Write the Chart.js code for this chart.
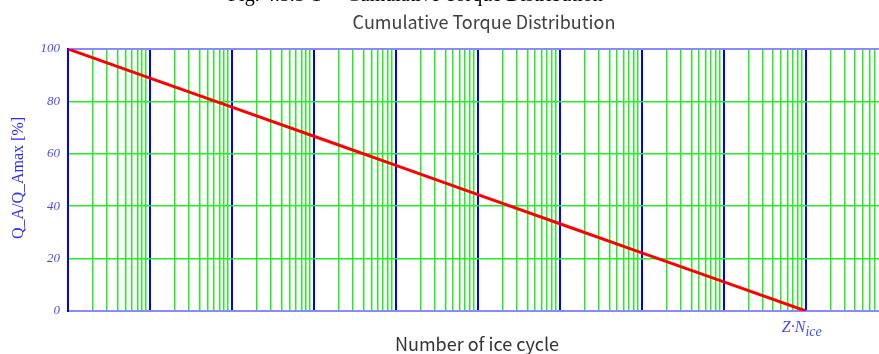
<!DOCTYPE html>
<html>
<head>
<meta charset="utf-8">
<script src="https://cdn.jsdelivr.net/npm/chart.js@4"></script>
<style>
  html, body { margin: 0; padding: 0; background: #fff; }
  #wrap { width: 879px; height: 354px; position: relative; }
</style>
</head>
<body>
<div id="wrap"><canvas id="torqueChart"></canvas></div>
<script>
// cycle counts at each decade (x), relative torque in % (y)
const cycles = [1, 1e1, 1e2, 1e3, 1e4, 1e5, 1e6, 1e7, 1e8, 1e9];
const torquePct = [100, 88.9, 77.8, 66.7, 55.6, 44.4, 33.3, 22.2, 11.1, 0];
const yTicks = [0, 20, 40, 60, 80, 100];
const significands = [1, 2, 3, 4, 5, 6, 7, 8, 9];
const decades = [1, 1e1, 1e2, 1e3, 1e4, 1e5, 1e6, 1e7, 1e8, 1e9];
const xMax = 7.8e9;   // axis runs a little past Z*N_ice
const zNice = 1e9;    // position of the Z*N_ice mark

const figCaption = 'Fig. 4.5.5-1     Cumulative Torque Distribution';
const chartTitle = 'Cumulative Torque Distribution';
const xTitle = 'Number of ice cycle';
const yTitle = 'Q_A/Q_Amax [%]';

// extra texts: cut-off caption, title, axis titles, Z*N_ice mark
const textPlugin = {
    id: 'texts',
    afterDraw(chart) {
        const ctx = chart.ctx;
        ctx.save();

        // caption above, mostly cropped off in the reference
        ctx.fillStyle = '#000';
        ctx.font = '20px "Liberation Serif"';
        const w = ctx.measureText(figCaption).width;
        const size = 20 * 375 / w;
        ctx.font = size + 'px "Liberation Serif"';
        ctx.textBaseline = 'alphabetic';
        ctx.textAlign = 'left';
        ctx.fillText(figCaption, 228, 1);

        ctx.fillStyle = '#404040';
        ctx.font = '18px "Noto Sans CJK JP"';
        ctx.textAlign = 'center';
        ctx.textBaseline = 'middle';
        ctx.fillText(chartTitle, 484, 22);

        ctx.fillStyle = '#333';
        ctx.fillText(xTitle, 477, 344);

        // y title, rotated
        ctx.save();
        ctx.translate(19, 178);
        ctx.rotate(-Math.PI / 2);
        ctx.fillStyle = '#2a2aff';
        ctx.font = '16px "Liberation Serif"';
        ctx.fillText(yTitle, 0, 0);
        ctx.restore();

        // Z*N_ice under its decade line
        const px = chart.scales.x.getPixelForValue(zNice);
        ctx.fillStyle = '#4a4aee';
        ctx.textAlign = 'left';
        ctx.textBaseline = 'alphabetic';
        ctx.font = 'italic 16px "Liberation Serif"';
        const main = 'Z\u00b7N';
        const mw = ctx.measureText(main).width;
        ctx.fillText(main, px - 24, 332);
        ctx.font = 'italic 14px "Liberation Serif"';
        ctx.fillText('ice', px - 24 + mw, 336);

        ctx.restore();
    }
};

const ctx = document.getElementById('torqueChart').getContext('2d');
new Chart(ctx, {
    type: 'line',
    data: {
        datasets: [{
            data: cycles.map((c, i) => ({ x: c, y: torquePct[i] })),
            borderColor: '#ff0000',
            borderWidth: 3,
            pointRadius: 0,
            tension: 0,
            fill: false
        }]
    },
    options: {
        responsive: true,
        maintainAspectRatio: false,
        animation: false,
        layout: { padding: { top: 49, right: 0, left: 0, bottom: 0 } },
        plugins: {
            legend: { display: false },
            title: { display: false },
            tooltip: { enabled: false }
        },
        scales: {
            x: {
                type: 'logarithmic',
                min: 1,
                max: xMax,
                afterFit(scale) { scale.height = 43; },
                afterBuildTicks(scale) {
                    const t = [];
                    decades.forEach(d => significands.forEach(s => {
                        if (d * s <= xMax) t.push({ value: d * s, major: s === 1 });
                    }));
                    scale.ticks = t;
                },
                ticks: { display: false, autoSkip: false },
                border: { display: true, color: '#8888ff', width: 2 },
                grid: {
                    drawTicks: false,
                    color(c) {
                        if (!c.tick) return 'rgba(0,0,0,0)';
                        return c.tick.major ? '#0000ff' : '#22ee22';
                    },
                    lineWidth(c) {
                        return c.tick && c.tick.major ? 2 : 1.5;
                    }
                }
            },
            y: {
                type: 'linear',
                min: 0,
                max: 100,
                afterFit(scale) { scale.width = 68; },
                afterBuildTicks(scale) { scale.ticks = yTicks.map(v => ({ value: v })); },
                ticks: {
                    color: '#4a4aee',
                    padding: 8,
                    font: { family: '"Liberation Serif"', style: 'italic', size: 13 }
                },
                border: { display: true, color: '#0000ff', width: 2 },
                grid: {
                    drawTicks: false,
                    color(c) {
                        const v = c.tick && c.tick.value;
                        return (v === 0 || v === 100) ? '#8888ff' : '#22ee22';
                    },
                    lineWidth(c) {
                        const v = c.tick && c.tick.value;
                        return (v === 0 || v === 100) ? 2 : 1.5;
                    }
                }
            }
        }
    },
    plugins: [textPlugin]
});
</script>
</body>
</html>
